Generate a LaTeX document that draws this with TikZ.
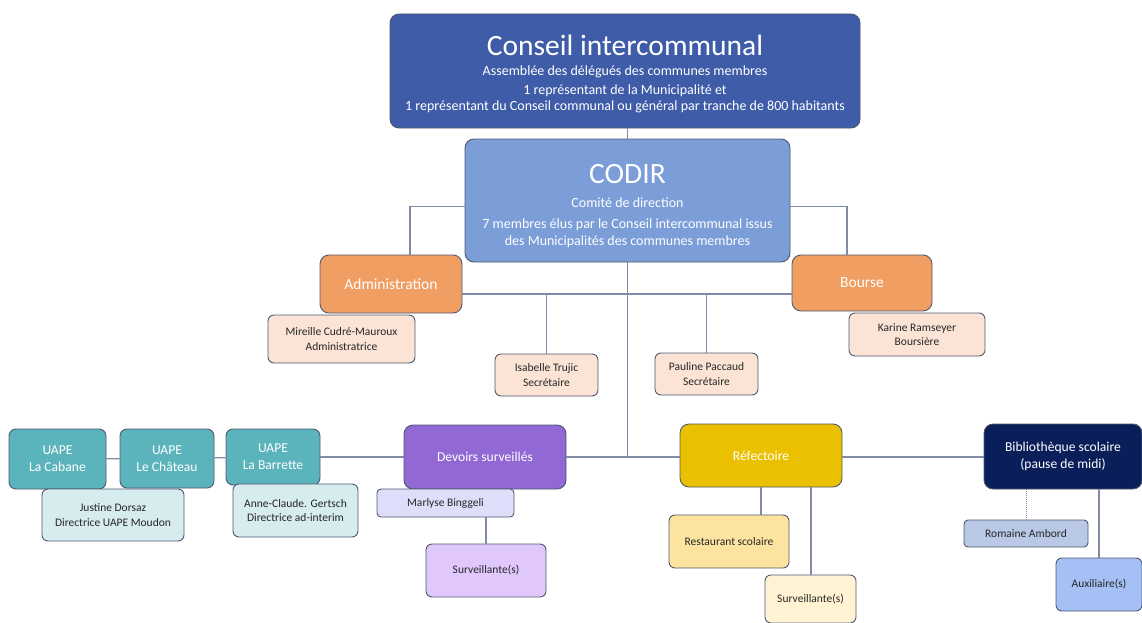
\documentclass[tikz,border=0pt]{standalone}
\usepackage{fontspec}
\setmainfont{Carlito}
\usepackage{xcolor}
\usepackage{tikz}
\usetikzlibrary{positioning,calc}

\definecolor{edge}{RGB}{80,88,110}
\definecolor{wire}{RGB}{128,140,165}
\definecolor{conseilblue}{RGB}{62,92,168}
\definecolor{codirblue}{RGB}{123,157,216}
\definecolor{orangehead}{RGB}{240,158,98}
\definecolor{peach}{RGB}{251,228,214}
\definecolor{tealhead}{RGB}{91,180,188}
\definecolor{tealpale}{RGB}{214,236,239}
\definecolor{purplehead}{RGB}{145,104,212}
\definecolor{lavender}{RGB}{222,222,250}
\definecolor{lilac}{RGB}{224,200,252}
\definecolor{goldhead}{RGB}{234,192,0}
\definecolor{goldlight}{RGB}{252,228,160}
\definecolor{goldpale}{RGB}{255,243,212}
\definecolor{navyhead}{RGB}{10,30,90}
\definecolor{greyblue}{RGB}{184,200,230}
\definecolor{skyblue}{RGB}{164,192,244}

\begin{document}
\begin{tikzpicture}[
    x=1pt, y=-1pt,
    box/.style={rectangle, draw=edge, line width=0.9pt, rounded corners=9pt, align=center, inner sep=2pt},
    head/.style={box, text=white, font=\fontsize{13.6}{16}\selectfont},
    person/.style={box, rounded corners=6pt, text=black!85, font=\fontsize{11.5}{14.5}\selectfont},
    link/.style={draw=wire, line width=1.2pt},
    dotlink/.style={draw=wire, line width=1pt, densely dotted}
]
\useasboundingbox (0,0) rectangle (1142,623);

% Top
\node[box, fill=conseilblue, text=white, font=\fontsize{14}{16}\selectfont, minimum width=470, minimum height=114] (conseil) at (625,71)
    {\rule{0pt}{27pt}{\fontsize{29.5}{30}\selectfont Conseil intercommunal}\\[4pt]
     Assemblée des délégués des communes membres\\[3pt]
     1 représentant de la Municipalité et\\
     1 représentant du Conseil communal ou général par tranche de 800 habitants};
\node[box, fill=codirblue, text=white, font=\fontsize{14}{17}\selectfont, minimum width=325, minimum height=123] (codir) at (627.5,200.5)
    {\rule{0pt}{31pt}{\fontsize{29.5}{30}\selectfont CODIR}\\[7pt]
     Comité de direction\\[4pt]
     7 membres élus par le Conseil intercommunal issus\\
     des Municipalités des communes membres};

% Administration and Bourse
\node[head, font=\fontsize{15.5}{18}\selectfont, fill=orangehead, minimum width=142, minimum height=58] (admin) at (391,284) {Administration};
\node[head, font=\fontsize{15.5}{18}\selectfont, fill=orangehead, minimum width=140, minimum height=56] (bourse) at (862,283) {Bourse};
\node[person, fill=peach, minimum width=147, minimum height=48] (mireille) at (341.5,339) {Mireille Cudré-Mauroux\\Administratrice};
\node[person, fill=peach, minimum width=103, minimum height=42] (isabelle) at (546.5,375) {Isabelle Trujic\\Secrétaire};
\node[person, fill=peach, minimum width=103, minimum height=42] (pauline) at (706.5,374) {Pauline Paccaud\\Secrétaire};
\node[person, fill=peach, minimum width=136, minimum height=43] (karine) at (917,334.5) {Karine Ramseyer\\Boursière};

% UAPE
\node[head, fill=tealhead, rounded corners=7pt, font=\fontsize{13.6}{17}\selectfont, minimum width=97, minimum height=60] (cabane) at (57.5,459) {UAPE\\La Cabane};
\node[head, fill=tealhead, rounded corners=7pt, font=\fontsize{13.6}{17}\selectfont, minimum width=94, minimum height=59] (chateau) at (167,458.5) {UAPE\\Le Château};
\node[head, fill=tealhead, rounded corners=7pt, font=\fontsize{13.6}{17}\selectfont, minimum width=94, minimum height=56] (barrette) at (273,457) {UAPE\\La Barrette};
\node[person, fill=tealpale, minimum width=142, minimum height=52] (justine) at (113,515) {Justine Dorsaz\\Directrice UAPE Moudon};
\node[person, fill=tealpale, minimum width=125, minimum height=53] (anne) at (295.5,510.5) {Anne-Claude. Gertsch\\Directrice ad-interim};

% Devoirs surveilles
\node[head, fill=purplehead, minimum width=162, minimum height=64] (devoirs) at (485,457) {Devoirs surveillés};
\node[person, fill=lavender, rounded corners=4pt, minimum width=137, minimum height=28] (marlyse) at (445.5,503) {Marlyse Binggeli};
\node[person, fill=lilac, minimum width=120, minimum height=53] (survdevoirs) at (486,570.5) {Surveillante(s)};

% Refectoire
\node[head, fill=goldhead, minimum width=162, minimum height=63] (refect) at (761,455.5) {Réfectoire};
\node[person, fill=goldlight, minimum width=120, minimum height=53] (resto) at (729,541.5) {Restaurant scolaire};
\node[person, fill=goldpale, minimum width=91, minimum height=48] (survrefect) at (810.5,599) {Surveillante(s)};

% Bibliotheque
\node[head, fill=navyhead, font=\fontsize{13.6}{17}\selectfont, minimum width=158, minimum height=65] (biblio) at (1063,456.5) {Bibliothèque scolaire\\(pause de midi)};
\node[person, fill=greyblue, rounded corners=4pt, minimum width=124, minimum height=27] (romaine) at (1026,533.5) {Romaine Ambord};
\node[person, fill=skyblue, minimum width=86, minimum height=53] (aux) at (1099,584.5) {Auxiliaire(s)};

% Connections
\coordinate (bar) at (626,294);
\coordinate (bus) at (626,457);
\draw[link] (conseil.south -| codir.north) -- (codir.north);
\draw[link] ([yshift=-6pt]codir.west) -| ([xshift=19pt]admin.north);
\draw[link] ([yshift=-6pt]codir.east) -| ([xshift=-15pt]bourse.north);
\draw[link] (admin.east |- bar) -- (bourse.west |- bar);
\draw[link] (isabelle.north) -- (isabelle.north |- bar);
\draw[link] (pauline.north) -- (pauline.north |- bar);
\draw[link] (codir.south) -- (codir.south |- bus);
\draw[link] (cabane) -- (chateau);
\draw[link] (chateau) -- (barrette);
\draw[link] (barrette.east |- bus) -- (devoirs.west |- bus);
\draw[link] (devoirs.east |- bus) -- (refect.west |- bus);
\draw[link] (refect.east |- bus) -- (biblio.west |- bus);
\draw[link] (marlyse.south -| survdevoirs.north) -- (survdevoirs.north);
\draw[link] (refect.south) -- (refect.south |- resto.north);
\draw[link] ([xshift=50pt]refect.south) -- ([xshift=50pt]refect.south |- survrefect.north);
\draw[dotlink] (romaine.north) -- (romaine.north |- biblio.south);
\draw[link] (aux.north) -- (aux.north |- biblio.south);

\end{tikzpicture}
\end{document}
